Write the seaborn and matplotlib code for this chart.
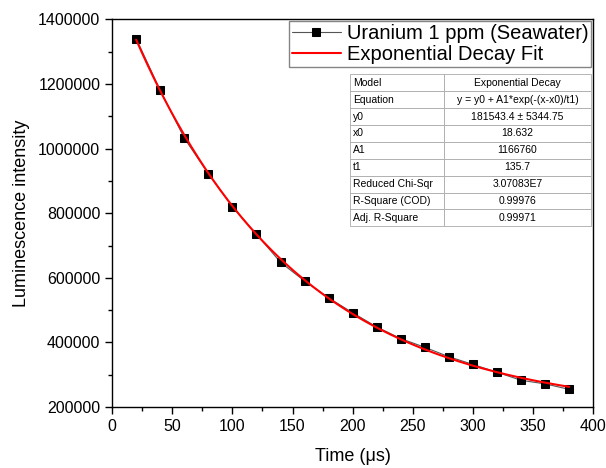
import numpy as np
import pandas as pd
import seaborn as sns
import matplotlib.pyplot as plt
from matplotlib.ticker import MultipleLocator, ScalarFormatter

# measured decay, uranium 1 ppm in seawater
time_us = [20, 40, 60, 80, 100, 120, 140, 160, 180, 200,
           220, 240, 260, 280, 300, 320, 340, 360, 380]
intensity = [1340000, 1180000, 1032000, 922000, 820000, 735000, 648000, 590000,
             538000, 492000, 448000, 412000, 385000, 356000, 332000, 308000,
             283000, 272000, 255000]

# fit parameters as given in the table
y0, x0, A1, t1 = 181543.4, 18.632, 1166760, 135.7
table_rows = [
    ["Model", "Exponential Decay"],
    ["Equation", "y = y0 + A1*exp(-(x-x0)/t1)"],
    ["y0", "181543.4 \u00b1 5344.75"],
    ["x0", "18.632"],
    ["A1", "1166760"],
    ["t1", "135.7"],
    ["Reduced Chi-Sqr", "3.07083E7"],
    ["R-Square (COD)", "0.99976"],
    ["Adj. R-Square", "0.99971"],
]

sns.set_style("ticks", {"axes.edgecolor": "black", "text.color": "black",
                        "axes.labelcolor": "black", "xtick.color": "black",
                        "ytick.color": "black"})
plt.rcParams["font.family"] = ["Liberation Sans", "DejaVu Sans"]

df = pd.DataFrame({"t": time_us, "I": intensity})
xf = np.linspace(min(time_us), max(time_us), 300)
fit = pd.DataFrame({"t": xf, "I": y0 + A1 * np.exp(-(xf - x0) / t1)})

fig = plt.figure(figsize=(6.06, 4.68), dpi=100)
ax = fig.add_axes([0.185, 0.130, 0.794, 0.829])

sns.lineplot(data=df, x="t", y="I", ax=ax, color="#555555", lw=0.8,
             marker="s", markersize=6, markerfacecolor="black",
             markeredgecolor="black", label="Uranium 1 ppm (Seawater)")
sns.lineplot(data=fit, x="t", y="I", ax=ax, color="red", lw=1.5,
             label="Exponential Decay Fit")

ax.set_xlim(0, 400)
ax.set_ylim(200000, 1400000)
ax.xaxis.set_major_locator(MultipleLocator(50))
ax.xaxis.set_minor_locator(MultipleLocator(25))
ax.yaxis.set_major_locator(MultipleLocator(200000))
ax.yaxis.set_minor_locator(MultipleLocator(100000))
fmt = ScalarFormatter(useOffset=False)
fmt.set_scientific(False)
ax.yaxis.set_major_formatter(fmt)
ax.tick_params(which="major", length=5, width=1, labelsize=11.5)
ax.tick_params(which="minor", length=3, width=1)
for s in ax.spines.values():
    s.set_linewidth(1.0)
    s.set_visible(True)
ax.set_xlabel("Time (\u03bcs)", fontsize=13, labelpad=10)
ax.set_ylabel("Luminescence intensity", fontsize=13, labelpad=6)

leg = ax.legend(loc="upper right", fontsize=14.5, frameon=True, fancybox=False,
                edgecolor="#666666", borderpad=0.15, handlelength=2.4,
                handletextpad=0.3, labelspacing=0.1, borderaxespad=0.1)
leg.get_frame().set_linewidth(1.0)

tab = ax.table(cellText=table_rows, cellLoc="center",
               colWidths=[0.39, 0.61],
               bbox=[0.495, 0.466, 0.5, 0.392])
tab.auto_set_font_size(False)
tab.set_fontsize(7.5)
for (r, c), cell in tab.get_celld().items():
    cell.set_edgecolor("#aaaaaa")
    cell.set_linewidth(0.6)
    if c == 0:
        cell.set_text_props(ha="left")
        cell.PAD = 0.03
    cell.set_facecolor("white")

fig.savefig("out.png", dpi=100)
